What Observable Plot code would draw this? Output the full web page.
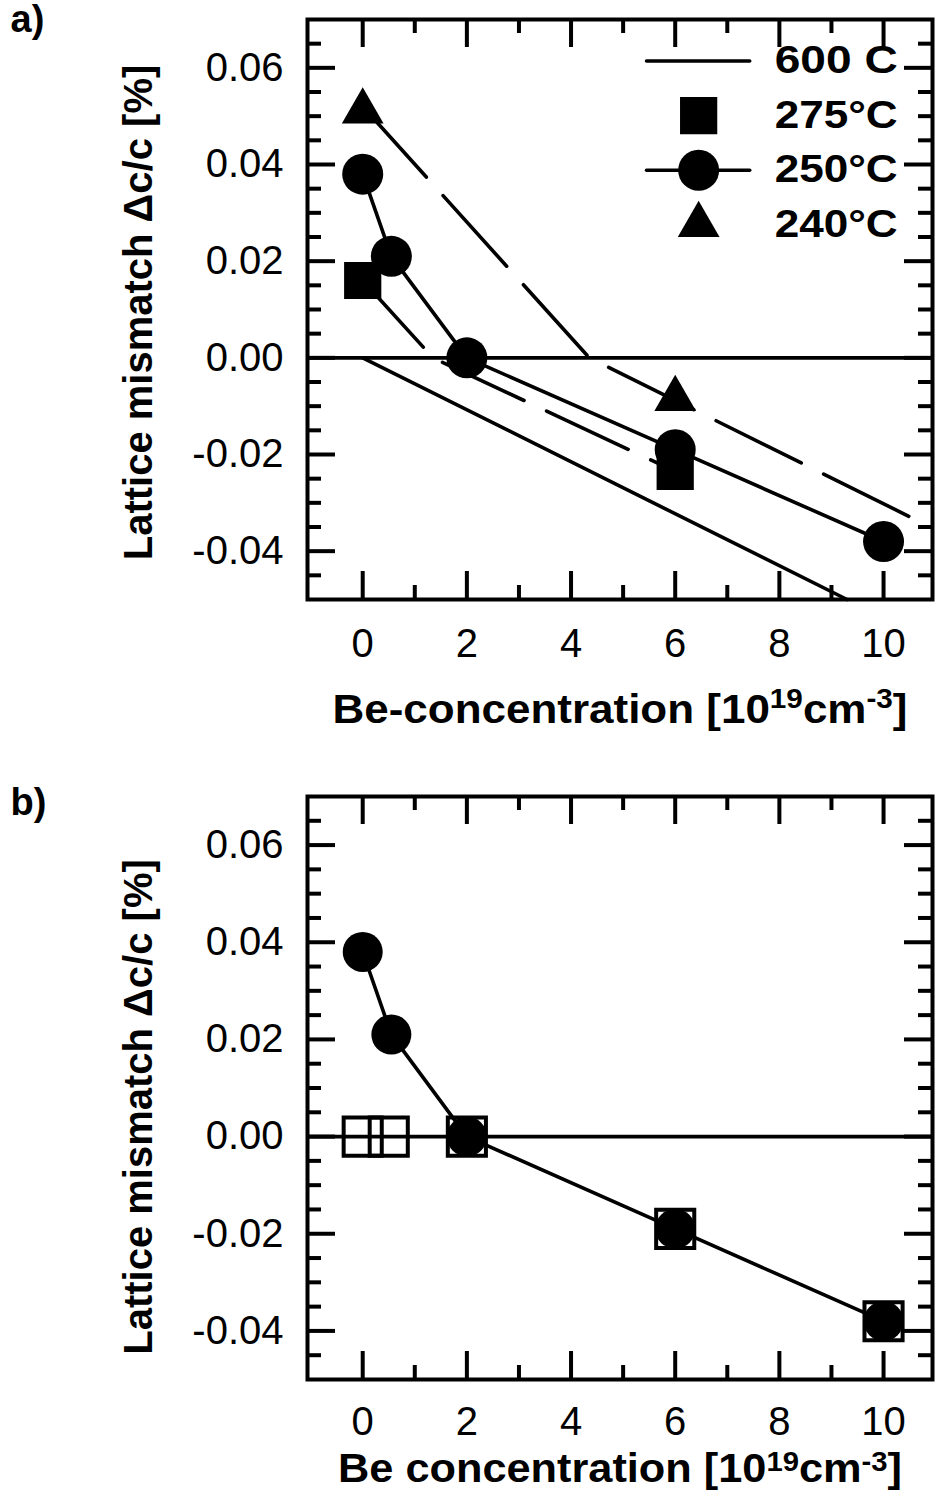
<!DOCTYPE html>
<html><head><meta charset="utf-8">
<script src="https://cdn.jsdelivr.net/npm/d3@7"></script>
<script src="https://cdn.jsdelivr.net/npm/@observablehq/plot@0.6"></script>
<style>
html,body{margin:0;padding:0;background:#fff}
body{width:940px;height:1499px;position:relative;overflow:hidden;font-family:"Liberation Sans",Arial,sans-serif}
.panel{position:absolute;left:0}
.panel svg{overflow:visible;display:block}
</style></head><body>
<div id="pa" class="panel" style="top:0px"></div>
<div id="pb" class="panel" style="top:760px"></div>
<script>
// ---------------- data ----------------
// Be concentration [1e19 cm^-3] and lattice mismatch [%]
const conc250 = [0, 0.55, 2, 6, 10];
const mis250  = [0.038, 0.021, 0.0, -0.019, -0.038];
const conc275 = [0, 6];
const mis275  = [0.016, -0.0235];
const conc240 = [0, 6];
const mis240  = [0.051, -0.0085];
const conc600 = [0, 9.3];
const mis600  = [0.0, -0.05];
// dashed guide lines drawn through the 275 °C and 240 °C data
const guide275Conc = [0, 1.35, 6];
const guide275Mis  = [0.016, 0.0, -0.0235];
const guide240Conc = [0, 4.35, 10.9];
const guide240Mis  = [0.052, 0.0, -0.035];
// panel b: open squares
const concOpen = [0, 0.5, 2, 6, 10];
const misOpen  = [0.0, 0.0, 0.0, -0.019, -0.038];

const legendLabels = ["600 C", "275\u00B0C", "250\u00B0C", "240\u00B0C"];
const xMajor = [0, 2, 4, 6, 8, 10];
const xMinor = [1, 3, 5, 7, 9];
const yMajor = [-0.04, -0.02, 0, 0.02, 0.04, 0.06];
const yMinor = [-0.045, -0.035, -0.03, -0.025, -0.015, -0.01, -0.005, 0.005, 0.01, 0.015, 0.025, 0.03, 0.035, 0.045, 0.05, 0.055, 0.065];
const yTitle = "Lattice mismatch \u0394c/c [%]";
const xTitleA = ["Be-concentration [10", "19", "cm", "-3", "]"];
const xTitleB = ["Be concentration [10", "19", "cm", "-3", "]"];

// ---------------- helpers ----------------
const pts = (xs, ys) => xs.map((x, i) => ({x, y: ys[i]}));
const W = 940, ML = 307, MR = 8;
const FW = W - ML - MR;
const SW = 4, LW = 3.6;
const FONT = "'Liberation Sans', Arial, sans-serif";

function axesMarks(fh, tickPad) {
  return [
    Plot.tickX(xMajor, {x: d => d, insetTop: fh - 28, strokeWidth: SW}),
    Plot.tickX(xMajor, {x: d => d, insetBottom: fh - 28, strokeWidth: SW}),
    Plot.tickX(xMinor, {x: d => d, insetTop: fh - 14, strokeWidth: SW}),
    Plot.tickX(xMinor, {x: d => d, insetBottom: fh - 14, strokeWidth: SW}),
    Plot.tickY(yMajor, {y: d => d, insetRight: FW - 28, strokeWidth: SW}),
    Plot.tickY(yMajor, {y: d => d, insetLeft: FW - 28, strokeWidth: SW}),
    Plot.tickY(yMinor, {y: d => d, insetRight: FW - 14, strokeWidth: SW}),
    Plot.tickY(yMinor, {y: d => d, insetLeft: FW - 14, strokeWidth: SW}),
    Plot.axisX(xMajor, {tickSize: 0, tickPadding: tickPad, fontSize: 40, label: null}),
    Plot.axisY(yMajor, {tickSize: 0, tickPadding: 24, fontSize: 40, label: null, tickFormat: d => d.toFixed(2)}),
    Plot.frame({strokeWidth: SW})
  ];
}

function supTitle(svg, parts, length, raise) {
  const full = parts.join("");
  d3.select(svg).selectAll("text").filter(function() { return this.textContent === full; }).each(function() {
    const t = d3.select(this);
    t.text(null);
    parts.forEach((p, i) => {
      const ts = t.append("tspan").text(p);
      if (i % 2 === 1) ts.attr("dy", -raise).attr("font-size", 27);
      else if (i > 0) ts.attr("dy", raise);
    });
    if (length) t.attr("textLength", length).attr("lengthAdjust", "spacingAndGlyphs");
  });
}
function stretch(svg, map) {
  d3.select(svg).selectAll("text").each(function() {
    const L = map[this.textContent];
    if (L) { this.setAttribute("textLength", L); this.setAttribute("lengthAdjust", "spacingAndGlyphs"); }
  });
}

const xScale = {domain: [-1.06, 10.94]};
const yScale = {domain: [-0.05, 0.07]};

// ---------------- panel a ----------------
const HA = 760, MTA = 19, MBA = 161;
const FHA = HA - MTA - MBA;
const legX0 = 5.45, legX1 = 7.43, legSym = 6.45, legTxt = 7.91;
const legY = i => 0.0614 - i * 0.0113;

const plotA = Plot.plot({
  width: W, height: HA,
  marginLeft: ML, marginRight: MR, marginTop: MTA, marginBottom: MBA,
  x: xScale, y: yScale,
  style: {fontFamily: FONT, fontSize: "40px", color: "#000", background: "#fff", overflow: "visible"},
  marks: [
    Plot.ruleY([0], {strokeWidth: LW}),
    Plot.line(pts(conc600, mis600), {x: "x", y: "y", strokeWidth: LW}),
    Plot.line(pts(guide275Conc, guide275Mis), {x: "x", y: "y", strokeWidth: LW, strokeDasharray: "90,25"}),
    Plot.line(pts(guide240Conc, guide240Mis), {x: "x", y: "y", strokeWidth: LW, strokeDasharray: "95,25"}),
    Plot.line(pts(conc250, mis250), {x: "x", y: "y", strokeWidth: LW}),
    Plot.dot(pts(conc275, mis275), {x: "x", y: "y", symbol: "square", r: 21, fill: "#000", stroke: null}),
    Plot.dot(pts(conc250, mis250), {x: "x", y: "y", symbol: "circle", r: 20.5, fill: "#000", stroke: null}),
    Plot.dot(pts(conc240, mis240), {x: "x", y: "y", symbol: "triangle", r: 15.5, fill: "#000", stroke: null}),
    // legend
    Plot.line([legX0, legX1], {x: d => d, y: () => legY(0), strokeWidth: LW}),
    Plot.dot([legSym], {x: d => d, y: () => legY(1), symbol: "square", r: 21, fill: "#000", stroke: null}),
    Plot.line([legX0, legX1], {x: d => d, y: () => legY(2), strokeWidth: LW}),
    Plot.dot([legSym], {x: d => d, y: () => legY(2), symbol: "circle", r: 20.5, fill: "#000", stroke: null}),
    Plot.dot([legSym], {x: d => d, y: () => legY(3), symbol: "triangle", r: 15.5, fill: "#000", stroke: null}),
    Plot.text(legendLabels, {x: () => legTxt, y: (d, i) => legY(i), text: d => d, textAnchor: "start", fontWeight: "bold", fontSize: 38}),
    ...axesMarks(FHA, 29),
    Plot.text([xTitleA.join("")], {frameAnchor: "bottom", dy: 123, text: d => d, fontWeight: "bold", fontSize: 40}),
    Plot.text([yTitle], {frameAnchor: "left", textAnchor: "middle", lineAnchor: "middle", rotate: -90, dx: -168, dy: 3, text: d => d, fontWeight: "bold", fontSize: 40}),
    Plot.text(["a)"], {frameAnchor: "top-left", dx: -297, dy: -14, text: d => d, textAnchor: "start", lineAnchor: "top", fontWeight: "bold", fontSize: 38})
  ]
});
supTitle(plotA, xTitleA, 575, 15);
stretch(plotA, {"600 C": 123, "275\u00B0C": 123, "250\u00B0C": 123, "240\u00B0C": 123});
document.getElementById("pa").appendChild(plotA);

// ---------------- panel b ----------------
const HB = 739, MTB = 36, MBB = 120;
const FHB = HB - MTB - MBB;
const plotB = Plot.plot({
  width: W, height: HB,
  marginLeft: ML, marginRight: MR, marginTop: MTB, marginBottom: MBB,
  x: xScale, y: yScale,
  style: {fontFamily: FONT, fontSize: "40px", color: "#000", background: "#fff", overflow: "visible"},
  marks: [
    Plot.ruleY([0], {strokeWidth: LW}),
    Plot.line(pts(conc250, mis250), {x: "x", y: "y", strokeWidth: LW}),
    Plot.dot(pts(conc250, mis250), {x: "x", y: "y", symbol: "circle", r: 20, fill: "#000", stroke: null}),
    Plot.dot(pts(concOpen, misOpen), {x: "x", y: "y", symbol: "square", r: 21.5, fill: "none", stroke: "#000", strokeWidth: 4}),
    ...axesMarks(FHB, 27),
    Plot.text([xTitleB.join("")], {frameAnchor: "bottom", dy: 102, text: d => d, fontWeight: "bold", fontSize: 40}),
    Plot.text([yTitle], {frameAnchor: "left", textAnchor: "middle", lineAnchor: "middle", rotate: -90, dx: -168, dy: 19, text: d => d, fontWeight: "bold", fontSize: 40}),
    Plot.text(["b)"], {frameAnchor: "top-left", dx: -297, dy: -8, text: d => d, textAnchor: "start", lineAnchor: "top", fontWeight: "bold", fontSize: 38})
  ]
});
supTitle(plotB, xTitleB, 564, 11);
document.getElementById("pb").appendChild(plotB);
</script>
</body></html>
